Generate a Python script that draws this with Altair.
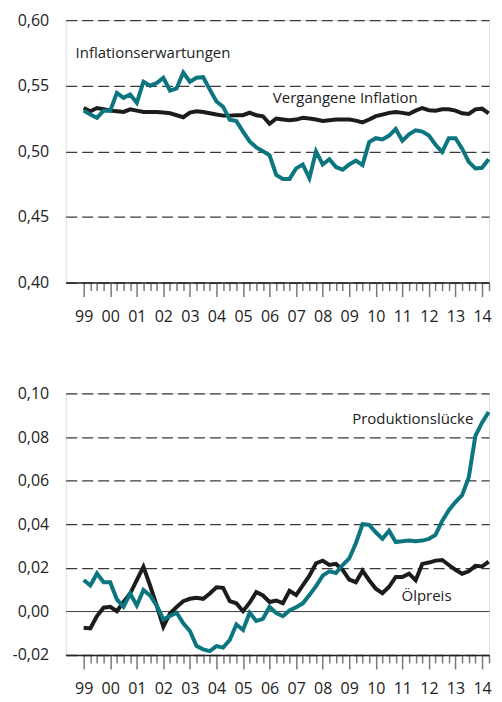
import altair as alt
import pandas as pd

# quarterly observations 1999Q1 .. 2014Q2
n_q = 62
quarters = [1999 + i // 4 + (i % 4) / 4 for i in range(n_q)]

vergangene_inflation = [
    0.533, 0.5305, 0.533, 0.532, 0.531, 0.5305, 0.530, 0.532, 0.531, 0.530,
    0.530, 0.530, 0.5295, 0.529, 0.5275, 0.526, 0.5295, 0.5305, 0.530, 0.529,
    0.528, 0.5272, 0.5272, 0.5275, 0.5275, 0.5295, 0.5275, 0.5267, 0.521, 0.525,
    0.5243, 0.5237, 0.5242, 0.5255, 0.525, 0.5242, 0.5232, 0.5237, 0.5242, 0.5242,
    0.5242, 0.5234, 0.522, 0.5242, 0.5268, 0.528, 0.5293, 0.530, 0.5293, 0.5285,
    0.531, 0.533, 0.5313, 0.531, 0.532, 0.532, 0.531, 0.529, 0.5285, 0.532,
    0.5325, 0.5289,
]
inflationserwartungen = [
    0.531, 0.528, 0.5255, 0.531, 0.531, 0.5445, 0.5407, 0.5433, 0.537, 0.553,
    0.550, 0.552, 0.556, 0.5463, 0.548, 0.560, 0.553, 0.556, 0.5565, 0.547,
    0.538, 0.534, 0.524, 0.523, 0.515, 0.5076, 0.503, 0.500, 0.497, 0.482,
    0.479, 0.479, 0.487, 0.490, 0.4795, 0.500, 0.490, 0.494, 0.488, 0.486,
    0.490, 0.493, 0.4895, 0.507, 0.510, 0.509, 0.512, 0.517, 0.508, 0.513,
    0.516, 0.515, 0.512, 0.505, 0.4995, 0.510, 0.510, 0.502, 0.492, 0.487,
    0.4875, 0.494,
]
oelpreis = [
    -0.0075, -0.0078, -0.0021, 0.0017, 0.0021, 0.0001, 0.0043, 0.0082, 0.0144, 0.0205,
    0.0119, 0.0027, -0.007, -0.0009, 0.002, 0.0047, 0.0058, 0.0063, 0.0058, 0.0082,
    0.0111, 0.0108, 0.0047, 0.0037, 0.0001, 0.004, 0.0089, 0.0073, 0.0043, 0.005,
    0.0038, 0.0094, 0.0075, 0.0119, 0.0164, 0.0221, 0.0233, 0.0213, 0.0218, 0.0191,
    0.0146, 0.0134, 0.0187, 0.0143, 0.0104, 0.0084, 0.0113, 0.0158, 0.0158, 0.0173,
    0.0143, 0.0218, 0.0224, 0.0233, 0.0236, 0.0213, 0.0191, 0.0173, 0.0184, 0.0209,
    0.0206, 0.0228,
]
produktionsluecke = [
    0.0144, 0.0119, 0.0174, 0.0134, 0.0134, 0.0055, 0.0021, 0.0082, 0.0027, 0.0098,
    0.0073, 0.0027, -0.0037, -0.0021, -0.0006, -0.0055, -0.009, -0.0159, -0.0174, -0.0182,
    -0.0159, -0.0166, -0.0131, -0.006, -0.0085, -0.0006, -0.0044, -0.0034, 0.0021, -0.0008,
    -0.0022, 0.0004, 0.0019, 0.0037, 0.0075, 0.0116, 0.0164, 0.0184, 0.0176, 0.0213,
    0.0243, 0.0313, 0.040, 0.0397, 0.0363, 0.0333, 0.037, 0.0318, 0.0322, 0.0325,
    0.0322, 0.0325, 0.0333, 0.0351, 0.0415, 0.0464, 0.0502, 0.0533, 0.0614, 0.0805,
    0.0866, 0.0915,
]

top_ticks = [0.40, 0.45, 0.50, 0.55, 0.60]
bottom_ticks = [-0.02, 0.0, 0.02, 0.04, 0.06, 0.08, 0.10]

top_labels = ["Inflationserwartungen", "Vergangene Inflation"]
top_label_x = [2001.61, 2008.85]
top_label_y = [0.5747, 0.5403]
bottom_labels = ["Produktionslücke", "Ölpreis"]
bottom_label_x = [2011.39, 2011.91]
bottom_label_y = [0.0882, 0.0069]

TEAL = "#0b7580"
BLACK = "#1c1c1c"
FONT = "Open Sans"
TXT = "#222222"

x_ticks = [1999 + i / 4 for i in range(0, 62)]


def x_enc():
    return alt.X(
        "t:Q",
        scale=alt.Scale(domain=[1998.323, 2014.263], nice=False, zero=False),
        axis=alt.Axis(
            values=x_ticks, title=None, grid=False,
            domain=True, domainColor="#222222", domainWidth=1.5,
            ticks=True, tickColor="#7a7a7a", tickWidth=1.5,
            tickSize={"condition": {"test": "datum.value % 1 == 0", "value": 14}, "value": 8},
            labelExpr="datum.value % 1 == 0 ? slice('0' + (datum.value % 100), -2) : ''",
            labelPadding=12, labelFont=FONT, labelFontSize=16, labelColor=TXT,
            labelOverlap=False, labelFlush=False,
        ),
    )


def y_enc(ticks):
    return alt.Y(
        "v:Q",
        scale=alt.Scale(domain=[ticks[0], ticks[-1]], nice=False, zero=False),
        axis=alt.Axis(
            values=ticks, title=None, domain=False, ticks=False, grid=True,
            gridColor="#3a3a3a",
            gridWidth={"condition": {"test": "datum.value == 0", "value": 1}, "value": 1.3},
            gridDash={"condition": {"test": "datum.value == 0", "value": []}, "value": [11, 5]},
            labelExpr="replace(replace(format(datum.value, '.2f'), '.', ','), '\u2212', '-')",
            labelPadding=17, labelFont=FONT, labelFontSize=16, labelColor=TXT,
            minExtent=50, maxExtent=50,
        ),
    )


def panel(series_names, series_values, ticks, lab, lab_x, lab_y, h):
    rows = []
    for name, vals in zip(series_names, series_values):
        for t, v in zip(quarters, vals):
            rows.append({"t": t, "v": v, "s": name})
    df = pd.DataFrame(rows)
    lines = alt.Chart(df).mark_line(strokeWidth=4).encode(
        x=x_enc(), y=y_enc(ticks),
        color=alt.Color("s:N", scale=alt.Scale(domain=series_names, range=[BLACK, TEAL]), legend=None),
        detail="s:N",
    )
    tdf = pd.DataFrame({"t": lab_x, "v": lab_y, "label": lab})
    texts = alt.Chart(tdf).mark_text(
        font=FONT, fontSize=15, color=TXT, align="center", baseline="middle"
    ).encode(x=x_enc(), y=y_enc(ticks), text="label:N")
    return alt.layer(lines, texts).properties(width=424, height=h)


top = panel(["Vergangene Inflation", "Inflationserwartungen"],
            [vergangene_inflation, inflationserwartungen],
            top_ticks, top_labels, top_label_x, top_label_y, 263)
bottom = panel(["Ölpreis", "Produktionslücke"],
               [oelpreis, produktionsluecke],
               bottom_ticks, bottom_labels, bottom_label_x, bottom_label_y, 262)

chart = alt.vconcat(top, bottom, spacing=59).properties(
    padding={"left": 2.8, "top": 2.5, "right": -4, "bottom": 0}
).configure_view(stroke=None).configure(background="white")

chart.save("out.html", embed_options={"renderer": "svg", "actions": False})
